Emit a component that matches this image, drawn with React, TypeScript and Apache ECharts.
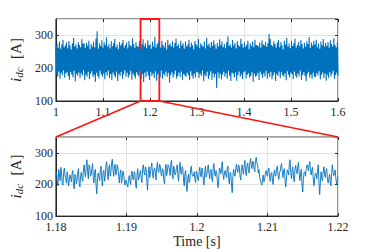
import React, { useEffect, useRef } from "react";
import * as echarts from "echarts";

// Top plot (1.0 - 1.6 s): upper and lower excursions of the noisy current band
const topUpper: number[] = [
  268, 275, 262, 281, 259, 272, 286, 264, 270, 278,
  261, 283, 269, 257, 276, 292, 266, 273, 260, 279,
  271, 264, 288, 275, 275, 262, 277, 269, 284, 258,
  274, 266, 281, 263, 290, 313, 259, 276, 268, 285,
  262, 279, 271, 294, 265, 273, 260, 282, 267, 276,
  289, 264, 272, 258, 280, 269, 275, 286, 263, 271,
  278, 260, 284, 270, 266, 291, 274, 262, 279, 268,
  265, 283, 257, 273, 288, 267, 276, 261, 285, 270,
  272, 259, 281, 266, 296, 263, 274, 280, 268, 262,
  284, 271, 264, 279, 257, 287, 270, 275, 266, 282,
  263, 277, 290, 268, 273, 261, 284, 269, 276, 259,
  281, 266, 272, 287, 264, 278, 270, 258, 283, 274,
  267, 289, 262, 276, 271, 265, 282, 260, 293, 269,
  275, 263, 280, 268, 285, 272, 259, 277, 266, 288,
  270, 282, 264, 274, 261, 279, 297, 268, 273, 263,
  286, 269, 277, 260, 283, 271, 266, 290, 274, 262,
  279, 265, 272, 284, 258, 276, 268, 281, 264, 287,
  271, 270, 266, 278, 262, 285, 273, 269, 280, 265,
  276, 304, 289, 271, 267, 282, 274, 263, 278, 286,
  264, 279, 270, 258, 284, 272, 292, 266, 275, 261,
  283, 268, 276, 290, 263, 271, 280, 267, 286, 274,
  260, 277, 265, 282, 273, 295, 262, 278, 269, 284,
  272, 287, 264, 275, 259, 281, 270, 289, 266, 277,
  268, 280, 262, 285, 274, 266, 291, 271, 263, 279,
];

const topLower: number[] = [
  182, 175, 190, 168, 186, 179, 193, 171, 184, 188,
  176, 165, 189, 180, 172, 192, 160, 183, 177, 187,
  170, 185, 178, 194, 163, 181, 174, 189, 167, 183,
  191, 173, 180, 158, 186, 176, 169, 192, 181, 175,
  184, 166, 188, 177, 193, 170, 182, 163, 187, 179,
  172, 190, 161, 183, 176, 189, 168, 181, 194, 174,
  186, 171, 179, 192, 165, 184, 177, 169, 188, 180,
  175, 193, 167, 182, 158, 187, 173, 190, 178, 164,
  189, 176, 184, 170, 191, 162, 181, 185, 172, 193,
  168, 183, 177, 190, 174, 186, 156, 179, 188, 171,
  181, 192, 169, 176, 187, 173, 190, 165, 182, 178,
  174, 186, 179, 163, 191, 177, 168, 184, 172, 189,
  187, 170, 183, 176, 193, 160, 180, 175, 189, 167,
  178, 191, 165, 185, 172, 182, 140, 188, 170, 184,
  166, 180, 189, 174, 184, 168, 192, 177, 161, 186,
  183, 172, 187, 162, 179, 190, 174, 181, 167, 188,
  191, 169, 180, 185, 171, 176, 188, 159, 183, 174,
  177, 186, 164, 190, 181, 170, 185, 175, 192, 168,
  184, 173, 189, 166, 178, 187, 161, 182, 176, 190,
  170, 188, 179, 174, 185, 163, 191, 180, 172, 186,
  182, 167, 190, 177, 171, 184, 175, 193, 165, 179,
  188, 176, 160, 183, 189, 172, 181, 168, 186, 174,
  173, 185, 178, 191, 166, 180, 187, 170, 184, 162,
  180, 171, 188, 175, 183, 192, 168, 179, 186, 177,
];

// Zoomed plot (1.18 - 1.22 s): even samples (every 0.2 ms) ...
const zoomValues: number[] = [
  225, 205, 248, 212, 236, 198, 252, 218, 240, 195,
  230, 208, 244, 186, 226, 214, 250, 192, 238, 210,
  262, 224, 278, 218, 255, 232, 266, 205, 248, 170,
  236, 212, 258, 195, 245, 228, 272, 215, 262, 238,
  280, 226, 264, 240, 252, 205, 246, 218, 236, 198,
  210, 192, 228, 200, 242, 214, 236, 188, 250, 222,
  244, 206, 262, 230, 248, 182, 256, 234, 268, 220,
  252, 214, 270, 238, 258, 226, 246, 202, 264, 240,
  256, 228, 276, 218, 248, 236, 262, 210, 270, 232,
  250, 196, 244, 178, 232, 214, 258, 226, 240, 206,
  236, 212, 254, 224, 246, 198, 258, 230, 262, 218,
  248, 208, 266, 226, 238, 190, 252, 234, 272, 216,
  244, 222, 258, 202, 236, 174, 248, 226, 264, 238,
  256, 214, 262, 232, 276, 228, 268, 236, 282, 250,
  270, 240, 286, 262, 246, 212, 198, 230, 218, 244,
  226, 252, 210, 238, 200, 246, 228, 258, 216, 242,
  266, 222, 250, 192, 246, 230, 278, 218, 256, 208,
  260, 234, 270, 212, 248, 176, 240, 226, 262, 244,
  272, 230, 254, 196, 236, 218, 262, 168, 240, 212,
  256, 222, 250, 204, 232, 196, 262, 228, 246, 200,
  224,
];

// ... and the odd samples in between them (0.1 ms later)
const zoomMidValues: number[] = [
  240, 196, 230, 254, 204, 238, 226, 204, 222, 214,
  218, 236, 196, 232, 202, 240, 204, 226, 220, 246,
  236, 258, 240, 262, 226, 250, 220, 242, 196, 222,
  224, 246, 216, 238, 210, 262, 240, 250, 226, 268,
  244, 258, 230, 262, 226, 234, 204, 242, 210, 214,
  200, 216, 212, 236, 220, 240, 200, 232, 214, 238,
  218, 250, 238, 256, 206, 234, 222, 254, 232, 246,
  236, 256, 240, 264, 234, 250, 214, 242, 228, 262,
  246, 266, 232, 258, 230, 254, 226, 252, 240, 256,
  214, 236, 196, 220, 206, 246, 232, 228, 218, 242,
  220, 240, 230, 252, 212, 236, 224, 250, 236, 244,
  220, 250, 236, 244, 208, 224, 246, 256, 230, 236,
  230, 252, 216, 238, 198, 226, 234, 250, 246, 262,
  228, 246, 244, 260, 240, 258, 244, 268, 260, 274,
  250, 272, 268, 236, 222, 204, 216, 208, 236, 232,
  246, 224, 232, 214, 234, 226, 250, 230, 236, 258,
  238, 244, 210, 224, 240, 264, 238, 246, 222, 246,
  242, 258, 232, 236, 198, 220, 238, 250, 258, 262,
  246, 248, 214, 222, 234, 246, 204, 206, 218, 240,
  232, 244, 222, 216, 210, 238, 240, 234, 218, 214,
];

const topRange = [1.0, 1.6];
const zoomRange = [1.18, 1.22];
const yRange = [100, 350];

const FONT = "'Liberation Serif', 'Times New Roman', 'DejaVu Serif', serif";
const INK = "#262626";
const GRIDC = "#e3e3e3";
const BLUE = "#0072BD";
const RED = "#ff1414";

const fmt = (v: number) => String(+v.toFixed(2));

function buildTop(): number[][] {
  const n = topUpper.length * 2;
  const step = (topRange[1] - topRange[0]) / (n - 1);
  const out: number[][] = [];
  for (let j = 0; j < topUpper.length; j++) {
    out.push([topRange[0] + 2 * j * step, topUpper[j]]);
    out.push([topRange[0] + (2 * j + 1) * step, topLower[j]]);
  }
  return out;
}

function buildZoom(): number[][] {
  const n = zoomValues.length + zoomMidValues.length;
  const step = (zoomRange[1] - zoomRange[0]) / (n - 1);
  const out: number[][] = [];
  for (let i = 0; i < zoomValues.length; i++) {
    out.push([zoomRange[0] + 2 * i * step, zoomValues[i]]);
    if (i < zoomMidValues.length) out.push([zoomRange[0] + (2 * i + 1) * step, zoomMidValues[i]]);
  }
  return out;
}

const labelStyle = { fontFamily: FONT, fontSize: 12, color: INK };

function xAxes(grid: number, min: number, max: number, interval: number) {
  return [
    {
      gridIndex: grid,
      type: "value",
      min,
      max,
      interval,
      axisLine: { show: true, lineStyle: { color: INK, width: 1 } },
      axisTick: { show: true, inside: true, length: 3, lineStyle: { color: INK } },
      axisLabel: { ...labelStyle, margin: 5, formatter: fmt },
      splitLine: { show: true, lineStyle: { color: GRIDC, width: 1 } },
    },
    {
      gridIndex: grid,
      type: "value",
      position: "top",
      min,
      max,
      interval,
      axisLine: { show: false },
      axisTick: { show: true, inside: true, length: 3, lineStyle: { color: INK } },
      axisLabel: { show: false },
      splitLine: { show: false },
    },
  ];
}

function yAxes(grid: number) {
  return [
    {
      gridIndex: grid,
      type: "value",
      min: yRange[0],
      max: yRange[1],
      interval: 100,
      name: "{i|i}{s|dc}  [A]",
      nameLocation: "middle",
      nameGap: 24,
      nameTextStyle: {
        fontFamily: FONT,
        fontSize: 15,
        color: INK,
        rich: {
          i: { fontFamily: FONT, fontSize: 15, fontStyle: "italic", color: INK },
          s: {
            fontFamily: FONT,
            fontSize: 11,
            fontStyle: "italic",
            color: INK,
            verticalAlign: "bottom",
            padding: [6, 1, 0, 0],
          },
        },
      },
      axisLine: { show: true, lineStyle: { color: INK, width: 1 } },
      axisTick: { show: true, inside: true, length: 3, lineStyle: { color: INK } },
      axisLabel: { ...labelStyle, margin: 3, showMaxLabel: false },
      splitLine: { show: true, lineStyle: { color: GRIDC, width: 1 } },
    },
    {
      gridIndex: grid,
      type: "value",
      position: "right",
      min: yRange[0],
      max: yRange[1],
      interval: 100,
      axisLine: { show: false },
      axisTick: { show: true, inside: true, length: 3, lineStyle: { color: INK } },
      axisLabel: { show: false },
      splitLine: { show: false },
    },
  ];
}

export default function App() {
  const ref = useRef<HTMLDivElement>(null);

  useEffect(() => {
    if (!ref.current) return;
    const chart = echarts.init(ref.current, null, { renderer: "svg" });
    const xa = [
      ...xAxes(0, topRange[0], topRange[1], 0.1),
      ...xAxes(1, zoomRange[0], zoomRange[1], 0.01),
    ];
    (xa[2] as any).name = "Time [s]";
    (xa[2] as any).nameLocation = "middle";
    (xa[2] as any).nameGap = 16;
    (xa[2] as any).nameTextStyle = { fontFamily: FONT, fontSize: 14, color: INK };

    chart.setOption({
      animation: false,
      backgroundColor: "#ffffff",
      grid: [
        { left: 48, right: 36, top: 19, height: 82, show: true, borderColor: INK, borderWidth: 1, backgroundColor: "transparent" },
        { left: 48, right: 36, top: 137, height: 82, show: true, borderColor: INK, borderWidth: 1, backgroundColor: "transparent" },
      ],
      xAxis: xa,
      yAxis: [...yAxes(0), ...yAxes(1)],
      series: [
        {
          type: "line",
          xAxisIndex: 0,
          yAxisIndex: 0,
          data: buildTop(),
          showSymbol: false,
          symbol: "none",
          lineStyle: { color: BLUE, width: 1.1 },
          markArea: {
            silent: true,
            itemStyle: { color: "rgba(0,0,0,0)", borderColor: RED, borderWidth: 1.8 },
            data: [[{ xAxis: zoomRange[0], yAxis: yRange[0] }, { xAxis: zoomRange[1], yAxis: yRange[1] }]],
          },
        },
        {
          type: "line",
          xAxisIndex: 2,
          yAxisIndex: 2,
          data: buildZoom(),
          showSymbol: false,
          symbol: "none",
          lineStyle: { color: BLUE, width: 0.9 },
        },
      ],
    });

    const a = chart.convertToPixel({ xAxisIndex: 0, yAxisIndex: 0 }, [zoomRange[0], yRange[0]]) as number[];
    const b = chart.convertToPixel({ xAxisIndex: 0, yAxisIndex: 0 }, [zoomRange[1], yRange[0]]) as number[];
    const c = chart.convertToPixel({ xAxisIndex: 2, yAxisIndex: 2 }, [zoomRange[0], yRange[1]]) as number[];
    const d = chart.convertToPixel({ xAxisIndex: 2, yAxisIndex: 2 }, [zoomRange[1], yRange[1]]) as number[];

    chart.setOption({
      graphic: [
        {
          type: "line",
          shape: { x1: c[0], y1: c[1], x2: d[0], y2: d[1] },
          style: { stroke: "#a8a8a8", lineWidth: 1.5 },
          z: 50,
        },
        {
          type: "line",
          shape: { x1: a[0], y1: a[1], x2: c[0], y2: c[1] },
          style: { stroke: RED, lineWidth: 1.5 },
          z: 60,
        },
        {
          type: "line",
          shape: { x1: b[0], y1: b[1], x2: d[0], y2: d[1] },
          style: { stroke: RED, lineWidth: 1.5 },
          z: 60,
        },
      ],
    });

    return () => chart.dispose();
  }, []);

  return (
    <div
      ref={ref}
      style={{ position: "fixed", left: 0, top: 0, width: 374, height: 249, background: "#fff" }}
    />
  );
}
